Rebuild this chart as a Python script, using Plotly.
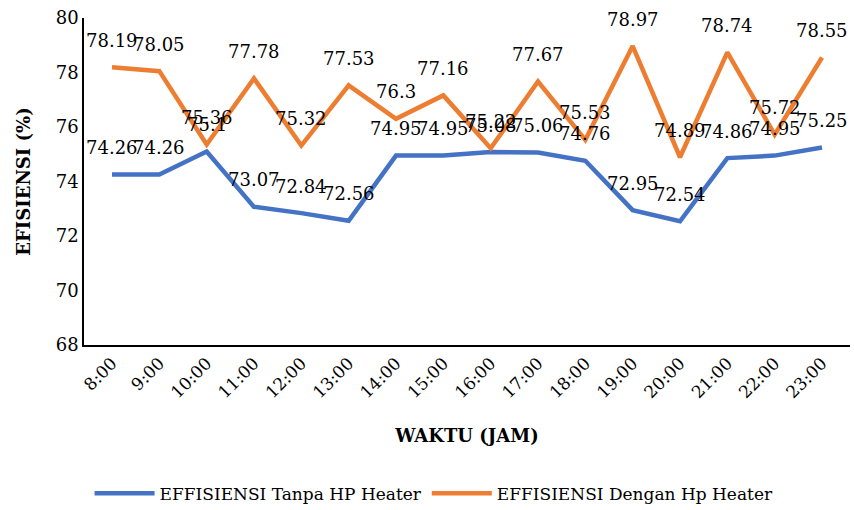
import plotly.graph_objects as go

hours = ["8:00", "9:00", "10:00", "11:00", "12:00", "13:00", "14:00", "15:00",
         "16:00", "17:00", "18:00", "19:00", "20:00", "21:00", "22:00", "23:00"]
tanpa = [74.26, 74.26, 75.1, 73.07, 72.84, 72.56, 74.95, 74.95,
         75.08, 75.06, 74.76, 72.95, 72.54, 74.86, 74.95, 75.25]
dengan = [78.19, 78.05, 75.36, 77.78, 75.32, 77.53, 76.3, 77.16,
          75.22, 77.67, 75.53, 78.97, 74.89, 78.74, 75.72, 78.55]

FONT = "DejaVu Serif"
BLUE = "#4472C4"
ORANGE = "#ED7D31"

fig = go.Figure()
fig.add_trace(go.Scatter(x=hours, y=tanpa, mode="lines", name="EFFISIENSI Tanpa HP Heater",
                         line=dict(color=BLUE, width=4.5)))
fig.add_trace(go.Scatter(x=hours, y=dengan, mode="lines", name="EFFISIENSI Dengan Hp Heater",
                         line=dict(color=ORANGE, width=4.5)))

ann = []
for series in (tanpa, dengan):
    for h, v in zip(hours, series):
        ann.append(dict(x=h, y=v, text=f"{v:g}", showarrow=False, yshift=27,
                        font=dict(family=FONT, size=18, color="black")))

fig.update_layout(
    width=854, height=510,
    margin=dict(l=84, r=4, t=18, b=165, autoexpand=False),
    paper_bgcolor="white", plot_bgcolor="white",
    font=dict(family=FONT, size=18, color="black"),
    showlegend=True,
    legend=dict(orientation="h", x=0.457, xanchor="center", y=-0.455, yanchor="middle",
                font=dict(family=FONT, size=17), itemwidth=60, tracegroupgap=0),
    annotations=ann,
    xaxis=dict(showline=True, linecolor="black", linewidth=1.5, ticks="", tickangle=-45,
               showgrid=False, tickfont=dict(family=FONT, size=17), automargin=False,
               title=dict(text="<b>WAKTU (JAM)</b>", font=dict(family=FONT, size=18), standoff=28)),
    yaxis=dict(range=[68, 80], dtick=2, showline=True, linecolor="black", linewidth=1.5,
               ticks="", showgrid=False, zeroline=False, tickfont=dict(family=FONT, size=18),
               automargin=False,
               title=dict(text="<b>EFISIENSI (%)</b>", font=dict(family=FONT, size=18), standoff=20)),
)

fig.write_html("out.html", post_script="document.body.style.margin='0';",
               config={"responsive": False, "displayModeBar": False})
